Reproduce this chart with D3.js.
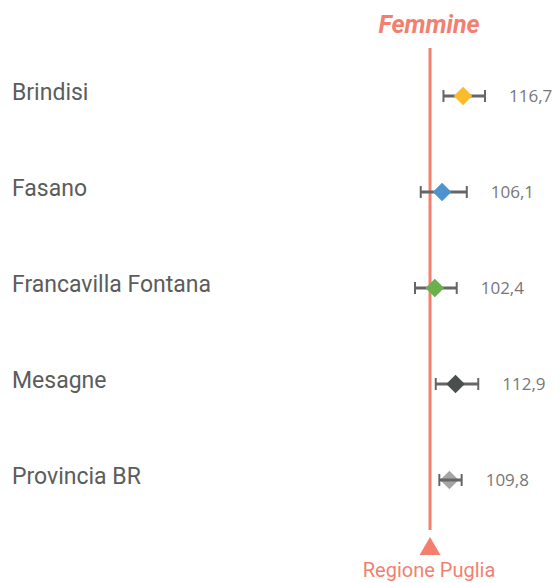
<!DOCTYPE html>
<html>
<head>
<meta charset="utf-8" />
<title>Femmine - Regione Puglia</title>
<script src="https://cdn.jsdelivr.net/npm/d3@7"></script>
<style>
	html, body { margin: 0; background: #fff; }
	#chart { width: 560px; height: 583px; }
</style>
</head>
<body>
<div id="chart"></div>
<script>
// comuni e valori (Regione Puglia = 100)
var categories = ["Brindisi", "Fasano", "Francavilla Fontana", "Mesagne", "Provincia BR"];
var values = [116.7, 106.1, 102.4, 112.9, 109.8];
var lower = [106.8, 95.3, 92.4, 102.9, 104.7];
var upper = [127.8, 118.6, 113.5, 124.4, 116.0];
var colors = ["#fbbc2c", "#4e93ce", "#6ab04c", "#4a4f4f", "#a5a5a5"];
var reference = 100;
var title = "Femmine";
var refLabel = "Regione Puglia";

var width = 560, height = 583;
var salmon = "#f47f6e";

var svg = d3.select("#chart").append("svg")
	.attr("width", width)
	.attr("height", height);

var x = d3.scaleLinear().domain([80, 140]).range([390.5, 509.1]);
var y = d3.scalePoint().domain(categories).range([96, 480]);

var rows = categories.map(function(c, i) {
	return { name: c, value: values[i], lo: lower[i], hi: upper[i], color: colors[i] };
});

// titolo
svg.append("text")
	.attr("x", x(reference) - 1)
	.attr("y", 33)
	.attr("text-anchor", "middle")
	.attr("font-family", "Roboto, sans-serif")
	.attr("font-size", 25)
	.attr("font-weight", "bold")
	.attr("font-style", "italic")
	.attr("fill", salmon)
	.text(title);

// linea di riferimento
svg.append("line")
	.attr("x1", x(reference)).attr("x2", x(reference))
	.attr("y1", 48).attr("y2", 530)
	.attr("stroke", salmon)
	.attr("stroke-width", 3);

svg.append("path")
	.attr("d", d3.symbol().type(d3.symbolTriangle).size(190))
	.attr("transform", "translate(" + x(reference) + ",549)")
	.attr("fill", salmon);

svg.append("text")
	.attr("x", x(reference) - 1)
	.attr("y", 577)
	.attr("text-anchor", "middle")
	.attr("font-family", "Roboto, sans-serif")
	.attr("font-size", 20)
	.attr("fill", salmon)
	.text(refLabel);

// etichette a sinistra
svg.selectAll(".cat")
	.data(rows)
	.enter().append("text")
	.attr("class", "cat")
	.attr("x", 12)
	.attr("y", function(d) { return y(d.name) + 4; })
	.attr("font-family", "Roboto, sans-serif")
	.attr("font-size", 23)
	.attr("fill", "#5c5c5c")
	.text(function(d) { return d.name; });

var g = svg.selectAll(".row")
	.data(rows)
	.enter().append("g")
	.attr("class", "row")
	.attr("transform", function(d) { return "translate(0," + y(d.name) + ")"; });

// barre di errore
var bars = g.append("g").attr("class", "err");

bars.append("line")
	.attr("x1", function(d) { return x(d.lo); })
	.attr("x2", function(d) { return x(d.hi); })
	.attr("stroke", "#666")
	.attr("stroke-width", 3);

bars.selectAll(".cap")
	.data(function(d) { return [d.lo, d.hi]; })
	.enter().append("line")
	.attr("class", "cap")
	.attr("x1", function(v) { return x(v); })
	.attr("x2", function(v) { return x(v); })
	.attr("y1", -6).attr("y2", 6)
	.attr("stroke", "#666")
	.attr("stroke-width", 2);

// rombi
g.append("path")
	.attr("d", d3.symbol().type(d3.symbolDiamond2).size(220))
	.attr("transform", function(d) { return "translate(" + x(d.value) + ",0)"; })
	.attr("fill", function(d) { return d.color; });

// nella riga della provincia la barra resta sopra al rombo
g.filter(function(d) { return d.name === "Provincia BR"; }).select(".err").raise();

// valori
g.append("text")
	.attr("x", function(d) { return x(d.hi) + 24; })
	.attr("y", 6)
	.attr("font-family", "'Open Sans', sans-serif")
	.attr("font-size", 17)
	.attr("fill", "#777")
	.text(function(d) { return d3.format(".1f")(d.value).replace(".", ","); });
</script>
</body>
</html>
